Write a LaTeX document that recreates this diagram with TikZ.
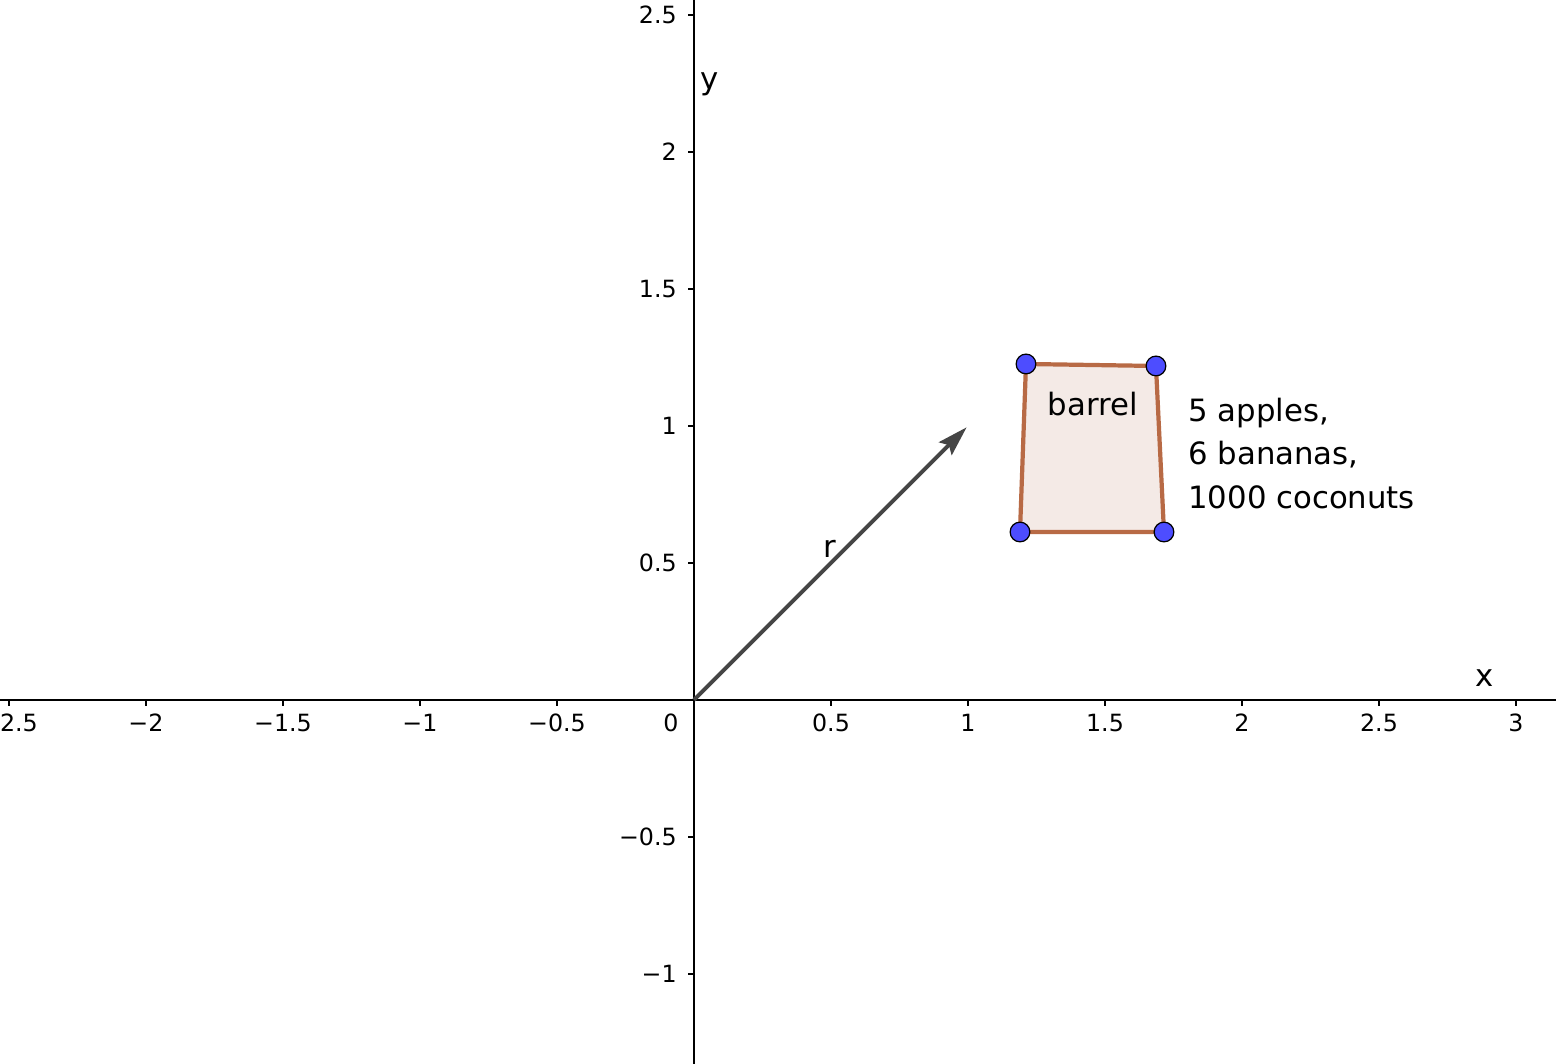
\documentclass[tikz,border=0pt]{standalone}
\usepackage{fontspec}
\setmainfont{DejaVu Sans}
\usetikzlibrary{arrows.meta}
\definecolor{edgebrown}{HTML}{B86A45}
\definecolor{fillpink}{HTML}{F4EAE6}
\definecolor{ptblue}{HTML}{4D4DFF}
\definecolor{vecgray}{HTML}{454545}
\tikzset{
  axisline/.style={line width=1.1pt, black},
  tickmark/.style={line width=0.9pt, black},
  ticklabel/.style={font=\fontsize{13.5}{16}\selectfont, inner sep=0pt},
  biglabel/.style={font=\fontsize{17.5}{21}\selectfont, inner sep=0pt},
  polyedge/.style={draw=edgebrown, line width=2.4pt, fill=fillpink, line join=round},
  ptdot/.style={circle, fill=ptblue, draw=black, line width=0.7pt, minimum size=0.072cm*5.48, inner sep=0pt},
  vecline/.style={draw=vecgray, line width=2.2pt, -{Stealth[length=0.6cm, width=0.36cm, inset=0.1cm]}}
}
\begin{document}
\begin{tikzpicture}[x=5.48cm, y=5.48cm]
\useasboundingbox[fill=white] (-2.5328,-1.3285) rectangle (3.1460,2.5547);
% axes
\coordinate (O) at (0,0);
\coordinate (xl) at (-2.56,0);
\coordinate (xr) at (3.17,0);
\coordinate (yb) at (0,-1.35);
\coordinate (yt) at (0,2.58);
\draw[axisline] (xl) -- (xr);
\draw[axisline] (yb) -- (yt);
% x ticks
\foreach \v/\t in {-2.5/−2.5,-2/−2,-1.5/−1.5,-1/−1,-0.5/−0.5,0.5/0.5,1/1,1.5/1.5,2/2,2.5/2.5,3/3} {
  \draw[tickmark] (\v,0) -- (\v,-0.022);
  \node[ticklabel, anchor=north] (xt\v) at (\v,-0.05) {\t};
}
\node[ticklabel, anchor=north] (xt0) at (-0.084,-0.05) {0};
% y ticks
\foreach \v/\t in {-1/−1,-0.5/−0.5,0.5/0.5,1/1,1.5/1.5,2/2,2.5/2.5} {
  \draw[tickmark] (0,\v) -- (-0.022,\v);
  \node[ticklabel, anchor=east] (yt\v) at (-0.062,\v) {\t};
}
% axis names
\node[biglabel] (xname) at (2.887,0.080) {x};
\node[biglabel] (yname) at (0.058,2.248) {y};
% vector r
\coordinate (R) at (0.995,0.995);
\draw[vecline] (O) -- (R);
\node[biglabel] (rlab) at (0.496,0.553) {r};
% barrel polygon
\coordinate (A) at (1.2117,1.2263);
\coordinate (B) at (1.6861,1.2190);
\coordinate (C) at (1.7153,0.6131);
\coordinate (D) at (1.1898,0.6131);
\draw[polyedge] (A) -- (B) -- (C) -- (D) -- cycle;
\node[ptdot] (pA) at (A) {};
\node[ptdot] (pB) at (B) {};
\node[ptdot] (pC) at (C) {};
\node[ptdot] (pD) at (D) {};
\node[biglabel] (barrel) at (1.456,1.079) {barrel};
\node[biglabel, anchor=north west, align=left, font=\fontsize{17.5}{24.6}\selectfont] (contents) at (1.803,1.102) {5 apples,\\6 bananas,\\1000 coconuts};
\end{tikzpicture}
\end{document}
